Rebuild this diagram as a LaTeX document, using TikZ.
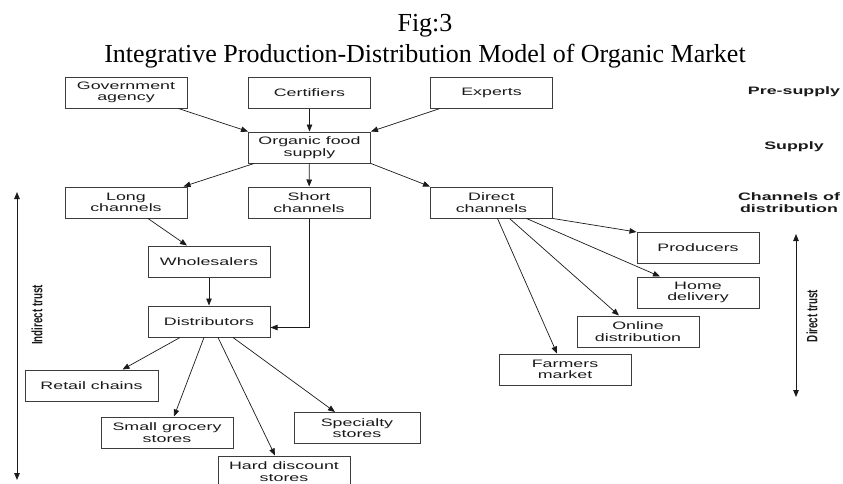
\documentclass[tikz,border=0pt]{standalone}
\usepackage{fontspec}
\setmainfont{Liberation Serif}
\newfontfamily\boxfont[FakeStretch=1.65]{Liberation Sans}
\newfontfamily\trustfont[FakeStretch=0.65]{Liberation Sans}
\usetikzlibrary{arrows.meta}
\definecolor{ink}{HTML}{1A1A1A}
\definecolor{edge}{HTML}{3C3C3C}
\tikzset{
  >={Triangle[length=7pt,width=5.5pt]},
  head/.style={anchor=base,font=\fontsize{26}{30}\selectfont,text=black},
  box/.style={draw=edge,line width=1pt,minimum width=122pt,minimum height=31pt,inner sep=0pt,align=center,text=ink,font=\boxfont\fontsize{10.8}{11.5}\selectfont},
  lab/.style={font=\boxfont\bfseries\fontsize{10.8}{11.5}\selectfont,align=center,text=ink},
  arr/.style={->,draw=ink,line width=0.7pt},
  tarr/.style={<->,draw=ink,line width=0.9pt},
  trust/.style={rotate=90,font=\trustfont\bfseries\fontsize{15}{18}\selectfont,text=ink},
}

\begin{document}
\begin{tikzpicture}[x=1pt,y=-1pt]
\useasboundingbox (0,0) rectangle (843,483);
% heading
\node[head] (fig) at (425,31) {Fig:3};
\node[head] (title) at (425,62) {Integrative Production-Distribution Model of Organic Market};
% pre-supply and supply
\node[box] (gov) at (126,92.5) {Government\\agency};
\node[box] (cert) at (309.5,92.5) {Certifiers};
\node[box] (exp) at (491.5,92.5) {Experts};
\node[box] (org) at (309.5,147.5) {Organic food\\supply};
% channels
\node[box] (long) at (126,202.5) {Long\\channels};
\node[box] (short) at (309,202.5) {Short\\channels};
\node[box] (direct) at (491.5,202.5) {Direct\\channels};
% indirect side
\node[box] (whole) at (209,261.5) {Wholesalers};
\node[box] (distr) at (209,321.5) {Distributors};
\node[box,minimum width=133pt] (retail) at (91.5,385.5) {Retail chains};
\node[box,minimum width=132pt] (small) at (167,432.5) {Small grocery\\stores};
\node[box,minimum width=132pt] (hard) at (284,471.5) {Hard discount\\stores};
\node[box,minimum width=126pt] (spec) at (357,428) {Specialty\\stores};
% direct side
\node[box] (prod) at (698,248) {Producers};
\node[box] (home) at (698,292.5) {Home\\delivery};
\node[box] (online) at (638,331.5) {Online\\distribution};
\node[box,minimum width=132pt] (farm) at (565,369.5) {Farmers\\market};
% level labels
\node[lab] (pre) at (794,92) {Pre-supply};
\node[lab] (sup) at (794,147) {Supply};
\node[lab] (chan) at (789,202.5) {Channels of\\distribution};
% trust axes
\coordinate (it1) at (17,192); \coordinate (it2) at (17,480);
\draw[tarr] (it1) -- (it2);
\node[trust] (itl) at (37,315) {Indirect trust};
\coordinate (dt1) at (796,234); \coordinate (dt2) at (796,397);
\draw[tarr] (dt1) -- (dt2);
\node[trust] (dtl) at (812,316) {Direct trust};
% connectors
\draw[arr] ([xshift=-9pt]gov.south east) -- (org.north west);
\draw[arr] (cert) -- (org);
\draw[arr] ([xshift=10pt]exp.south west) -- (org.north east);
\draw[arr] ([xshift=6pt]org.south west) -- ([xshift=-4pt]long.north east);
\draw[arr] (org) -- (short);
\draw[arr] (org.south east) -- (direct.north west);
\draw[arr] ([xshift=22pt]long.south) -- ([xshift=-22pt]whole.north);
\draw[arr] (whole) -- (distr);
\draw[arr] (short.south) |- ([yshift=-6pt]distr.east);
\draw[arr] ([xshift=-29pt]distr.south) -- ([xshift=31pt]retail.north);
\draw[arr] ([xshift=-5pt]distr.south) -- ([xshift=7pt]small.north);
\draw[arr] ([xshift=9pt]distr.south) -- ([xshift=-9pt]hard.north);
\draw[arr] ([xshift=24pt]distr.south) -- ([xshift=-22pt]spec.north);
\draw[arr] (direct.south east) -- (prod.north west);
\draw[arr] ([xshift=35pt]direct.south) -- ([xshift=-38pt]home.north);
\draw[arr] ([xshift=18pt]direct.south) -- ([xshift=-19pt]online.north);
\draw[arr] ([xshift=6pt]direct.south) -- ([xshift=-8pt]farm.north);
\end{tikzpicture}
\end{document}
